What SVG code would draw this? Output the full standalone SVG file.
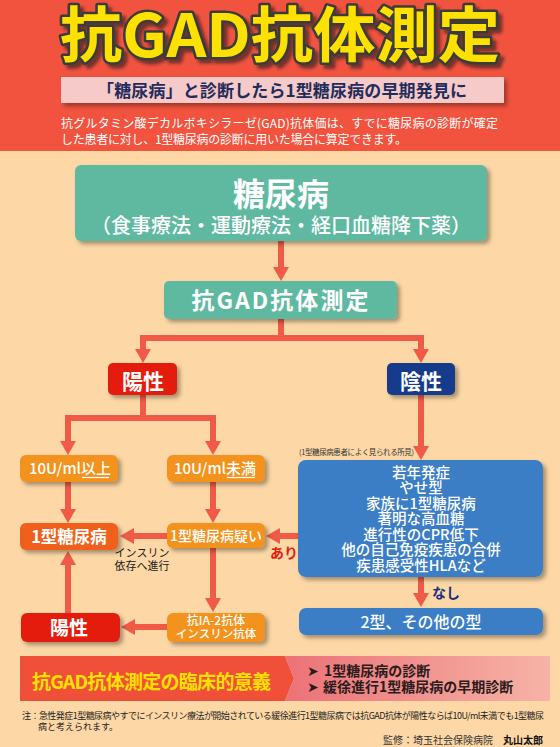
<svg xmlns="http://www.w3.org/2000/svg" width="560" height="747" viewBox="0 0 560 747">
<defs>
<style>
text{font-family:'Noto Sans CJK JP','Noto Sans CJK SC',sans-serif;}
.w{fill:#fff;}
.b{font-weight:bold;}
.m{font-weight:500;}
.mid{text-anchor:middle;}
.conn{stroke:#f05a46;stroke-width:6;fill:none;}
.arr{marker-end:url(#ah);}
</style>
<filter id="sh" x="-10%" y="-20%" width="130%" height="160%"><feDropShadow dx="3" dy="3" stdDeviation="2" flood-color="#000" flood-opacity="0.35"/></filter>
<filter id="tsh" x="-5%" y="-10%" width="115%" height="140%"><feDropShadow dx="4" dy="4" stdDeviation="1.5" flood-color="#222" flood-opacity="0.6"/></filter>
<marker id="ah" viewBox="0 0 14 16" refX="3" refY="8" markerWidth="14" markerHeight="16" markerUnits="userSpaceOnUse" orient="auto"><path d="M0,0 L14,8 L0,16 Z" fill="#f05a46"/></marker>
<linearGradient id="pk" x1="0" y1="0" x2="1" y2="0"><stop offset="0" stop-color="#ec7278"/><stop offset="1" stop-color="#f6b3a6"/></linearGradient>
</defs>
<rect width="560" height="747" fill="#fdd8a6"/>
<rect width="560" height="151" fill="#f1533f"/>

<g id="title">
<text x="280" y="57" class="b mid" font-size="60" textLength="440" lengthAdjust="spacingAndGlyphs" fill="#ffe100" stroke="#3a3a3a" stroke-width="5" stroke-linejoin="round" paint-order="stroke" filter="url(#tsh)">抗GAD抗体測定</text>
</g>
<g id="subtitle">
<rect x="61" y="77" width="443" height="26" fill="#f6cac8" filter="url(#sh)"/>
<text x="282" y="97" class="b mid" font-size="17" textLength="370" fill="#1f2c5c">「糖尿病」と診断したら1型糖尿病の早期発見に</text>
</g>
<g id="intro">
<text x="61" y="128" font-size="12" class="w" textLength="437">抗グルタミン酸デカルボキシラーゼ(GAD)抗体価は、すでに糖尿病の診断が確定</text>
<text x="61" y="144" font-size="12" class="w" textLength="346">した患者に対し、1型糖尿病の診断に用いた場合に算定できます。</text>
</g>

<g id="connectors">
<line class="conn arr" x1="281" y1="241" x2="281" y2="270"/>
<polyline class="conn" points="281,319 281,338"/>
<polyline class="conn" points="143,352 143,338 421,338 421,352"/>
<line class="conn arr" x1="143" y1="345" x2="143" y2="352"/>
<line class="conn arr" x1="421" y1="345" x2="421" y2="352"/>
<polyline class="conn" points="143,395 143,418"/>
<polyline class="conn" points="68,444 68,418 213,418 213,444"/>
<line class="conn arr" x1="68" y1="430" x2="68" y2="444"/>
<line class="conn arr" x1="213" y1="430" x2="213" y2="444"/>
<line class="conn arr" x1="421" y1="395" x2="421" y2="449"/>
<line class="conn arr" x1="68" y1="482" x2="68" y2="512"/>
<line class="conn arr" x1="213" y1="482" x2="213" y2="512"/>
<line class="conn arr" x1="167" y1="536" x2="131" y2="536"/>
<line class="conn arr" x1="298" y1="536" x2="277" y2="536"/>
<line class="conn arr" x1="213" y1="548" x2="213" y2="601"/>
<line class="conn arr" x1="167" y1="627" x2="132" y2="627"/>
<line class="conn arr" x1="68" y1="613" x2="68" y2="562"/>
<line class="conn arr" x1="421" y1="577" x2="421" y2="596"/>
<text x="142" y="557" class="mid" font-size="11" fill="#1a1a1a">インスリン</text>
<text x="142" y="570" class="mid" font-size="11" fill="#1a1a1a">依存へ進行</text>
<text x="270" y="558" class="b" font-size="14" fill="#e0200c">あり</text>
<text x="432" y="598" class="b" font-size="14" fill="#1b2f7a">なし</text>
</g>

<g id="diabetes">
<rect x="75" y="165" width="412" height="76" rx="6" fill="#5fb9a1" filter="url(#sh)"/>
<text x="281" y="206" class="w b mid" font-size="32">糖尿病</text>
<text x="281" y="233" class="w m mid" font-size="20">（食事療法・運動療法・経口血糖降下薬）</text>
</g>
<g id="gad-test">
<rect x="164" y="281" width="233" height="38" rx="5" fill="#5fb9a1" filter="url(#sh)"/>
<text x="280" y="309" class="w b mid" font-size="23" textLength="177">抗GAD抗体測定</text>
</g>
<g id="positive">
<rect x="108" y="363" width="69" height="32" rx="5" fill="#e31e0b" filter="url(#sh)"/>
<text x="143" y="389" class="w b mid" font-size="21">陽性</text>
</g>
<g id="negative">
<rect x="387" y="363" width="68" height="32" rx="5" fill="#173b8b" filter="url(#sh)"/>
<text x="421" y="389" class="w b mid" font-size="21">陰性</text>
</g>
<g id="over10">
<rect x="20" y="455" width="98" height="27" rx="6" fill="#f3921e" filter="url(#sh)"/>
<text x="70" y="474" class="w m mid" font-size="15">10U/ml以上</text>
<line x1="82" y1="477.5" x2="109" y2="477.5" stroke="#fff" stroke-width="1.2"/>
</g>
<g id="under10">
<rect x="167" y="455" width="98" height="27" rx="6" fill="#f3921e" filter="url(#sh)"/>
<text x="215" y="474" class="w m mid" font-size="15">10U/ml未満</text>
<line x1="227" y1="477.5" x2="255" y2="477.5" stroke="#fff" stroke-width="1.2"/>
</g>
<g id="type1">
<rect x="20" y="523" width="98" height="27" rx="6" fill="#f0601f" filter="url(#sh)"/>
<text x="69" y="543" class="w b mid" font-size="16.5">1型糖尿病</text>
</g>
<g id="type1-suspect">
<rect x="167" y="523" width="98" height="25" rx="6" fill="#f3921e" filter="url(#sh)"/>
<text x="216" y="540.5" class="w m mid" font-size="14">1型糖尿病疑い</text>
</g>
<g id="ia2">
<rect x="167" y="613" width="98" height="29" rx="6" fill="#f3921e" filter="url(#sh)"/>
<text x="216" y="625" class="w m mid" font-size="12">抗IA-2抗体</text>
<text x="216" y="638" class="w m mid" font-size="11.5">インスリン抗体</text>
</g>
<g id="positive2">
<rect x="21" y="613" width="99" height="29" rx="6" fill="#e31e0b" filter="url(#sh)"/>
<text x="69" y="635" class="w b mid" font-size="19">陽性</text>
</g>
<g id="findings">
<text x="299" y="455" font-size="7.5" fill="#333" textLength="115">(1型糖尿病患者によく見られる所見)</text>
<rect x="298" y="460" width="245" height="117" rx="8" fill="#3b7ec6" filter="url(#sh)"/>
<g class="w m" font-size="14.5" text-anchor="middle">
<text x="421" y="477.5">若年発症</text>
<text x="421" y="493">やせ型</text>
<text x="421" y="508.5">家族に1型糖尿病</text>
<text x="421" y="524">著明な高血糖</text>
<text x="421" y="539.5">進行性のCPR低下</text>
<text x="421" y="555">他の自己免疫疾患の合併</text>
<text x="421" y="570.5">疾患感受性HLAなど</text>
</g>
</g>
<g id="type2">
<rect x="299" y="608" width="244" height="27" rx="7" fill="#3b7ec6" filter="url(#sh)"/>
<text x="421" y="628" class="w m mid" font-size="16">2型、その他の型</text>
</g>

<g id="significance">
<path d="M20,656 H285 L294,678.5 L285,701 H20 Z" fill="#f0503a"/>
<path d="M285,656 H550 V701 H285 L294,678.5 Z" fill="url(#pk)"/>
<text x="32" y="689" class="b" font-size="19" fill="#ffe100" textLength="239">抗GAD抗体測定の臨床的意義</text>
<text x="307" y="676" font-size="14" fill="#2b1b1b" font-family="DejaVu Sans">➤</text>
<text x="324" y="676" class="b" font-size="14" fill="#2b1b1b">1型糖尿病の診断</text>
<text x="307" y="692" font-size="14" fill="#2b1b1b" font-family="DejaVu Sans">➤</text>
<text x="323" y="692" class="b" font-size="14" fill="#2b1b1b">緩徐進行1型糖尿病の早期診断</text>
</g>
<g id="footnote">
<text x="22" y="719" font-size="9" fill="#222" textLength="522">注：急性発症1型糖尿病やすでにインスリン療法が開始されている緩徐進行1型糖尿病では抗GAD抗体が陽性ならば10U/ml未満でも1型糖尿</text>
<text x="38" y="730" font-size="9" fill="#222">病と考えられます。</text>
<text x="543" y="744" font-size="10" fill="#333" text-anchor="end">監修：埼玉社会保険病院　<tspan class="b" fill="#111">丸山太郎</tspan></text>
</g>
</svg>
